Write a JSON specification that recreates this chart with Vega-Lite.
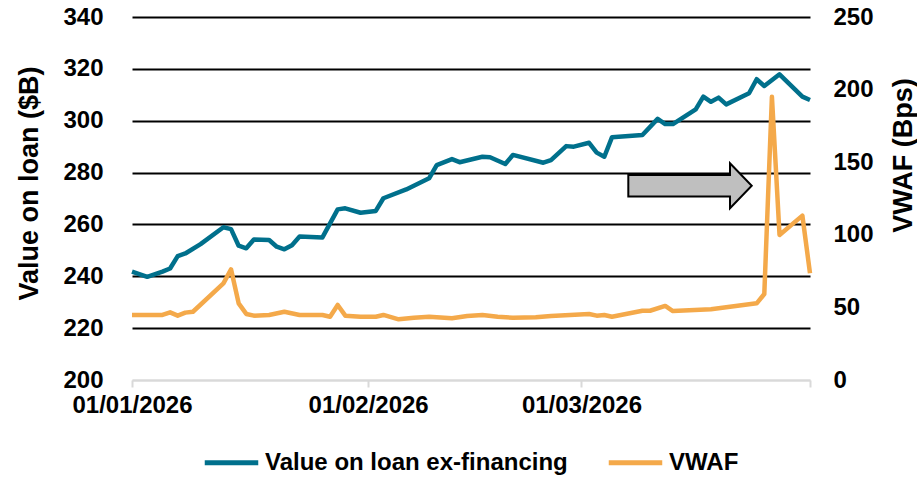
{
  "$schema": "https://vega.github.io/schema/vega-lite/v6.json",
  "width": 678,
  "height": 363,
  "autosize": {"type": "none"},
  "padding": {"left": 132, "top": 17, "right": 107, "bottom": 97},
  "background": "white",
  "config": {"view": {"stroke": null}, "font": "Liberation Sans"},
  "datasets": {
    "loan": [
      {"date": "2026-01-01", "value": 241.8},
      {"date": "2026-01-03", "value": 239.8},
      {"date": "2026-01-05", "value": 241.8},
      {"date": "2026-01-06", "value": 243.0},
      {"date": "2026-01-07", "value": 247.8},
      {"date": "2026-01-08", "value": 248.8},
      {"date": "2026-01-10", "value": 252.4},
      {"date": "2026-01-13", "value": 258.9},
      {"date": "2026-01-14", "value": 258.2},
      {"date": "2026-01-15", "value": 251.8},
      {"date": "2026-01-16", "value": 250.8},
      {"date": "2026-01-17", "value": 254.2},
      {"date": "2026-01-19", "value": 254.0},
      {"date": "2026-01-20", "value": 251.4},
      {"date": "2026-01-21", "value": 250.4},
      {"date": "2026-01-22", "value": 252.0},
      {"date": "2026-01-23", "value": 255.3},
      {"date": "2026-01-26", "value": 255.0},
      {"date": "2026-01-28", "value": 265.8},
      {"date": "2026-01-29", "value": 266.2},
      {"date": "2026-01-31", "value": 264.5},
      {"date": "2026-02-02", "value": 265.2},
      {"date": "2026-02-03", "value": 270.1},
      {"date": "2026-02-06", "value": 273.5},
      {"date": "2026-02-09", "value": 277.8},
      {"date": "2026-02-10", "value": 282.9},
      {"date": "2026-02-12", "value": 285.2},
      {"date": "2026-02-13", "value": 284.0},
      {"date": "2026-02-16", "value": 286.1},
      {"date": "2026-02-17", "value": 285.9},
      {"date": "2026-02-19", "value": 283.3},
      {"date": "2026-02-20", "value": 286.8},
      {"date": "2026-02-24", "value": 283.8},
      {"date": "2026-02-25", "value": 284.8},
      {"date": "2026-02-27", "value": 290.2},
      {"date": "2026-02-28", "value": 290.0},
      {"date": "2026-03-02", "value": 291.5},
      {"date": "2026-03-03", "value": 287.7},
      {"date": "2026-03-04", "value": 286.1},
      {"date": "2026-03-05", "value": 293.6},
      {"date": "2026-03-09", "value": 294.5},
      {"date": "2026-03-11", "value": 300.7},
      {"date": "2026-03-12", "value": 298.7},
      {"date": "2026-03-13", "value": 298.7},
      {"date": "2026-03-16", "value": 304.4},
      {"date": "2026-03-17", "value": 309.3},
      {"date": "2026-03-18", "value": 307.3},
      {"date": "2026-03-19", "value": 308.9},
      {"date": "2026-03-20", "value": 306.3},
      {"date": "2026-03-23", "value": 310.6},
      {"date": "2026-03-24", "value": 316.0},
      {"date": "2026-03-25", "value": 313.4},
      {"date": "2026-03-27", "value": 317.9},
      {"date": "2026-03-30", "value": 309.3},
      {"date": "2026-03-31", "value": 308.0}
    ],
    "vwaf": [
      {"date": "2026-01-01", "value": 44.8},
      {"date": "2026-01-05", "value": 44.8},
      {"date": "2026-01-06", "value": 46.6},
      {"date": "2026-01-07", "value": 44.3},
      {"date": "2026-01-08", "value": 46.4},
      {"date": "2026-01-09", "value": 47.0},
      {"date": "2026-01-13", "value": 66.6},
      {"date": "2026-01-14", "value": 76.2},
      {"date": "2026-01-15", "value": 52.8},
      {"date": "2026-01-16", "value": 45.5},
      {"date": "2026-01-17", "value": 44.3},
      {"date": "2026-01-19", "value": 44.8},
      {"date": "2026-01-21", "value": 47.0},
      {"date": "2026-01-23", "value": 44.8},
      {"date": "2026-01-26", "value": 44.8},
      {"date": "2026-01-27", "value": 43.6},
      {"date": "2026-01-28", "value": 51.7},
      {"date": "2026-01-29", "value": 44.3},
      {"date": "2026-01-31", "value": 43.6},
      {"date": "2026-02-02", "value": 43.6},
      {"date": "2026-02-03", "value": 44.8},
      {"date": "2026-02-05", "value": 41.8},
      {"date": "2026-02-07", "value": 42.9},
      {"date": "2026-02-09", "value": 43.6},
      {"date": "2026-02-11", "value": 42.9},
      {"date": "2026-02-12", "value": 42.5},
      {"date": "2026-02-14", "value": 44.1},
      {"date": "2026-02-16", "value": 44.8},
      {"date": "2026-02-18", "value": 43.6},
      {"date": "2026-02-20", "value": 42.9},
      {"date": "2026-02-23", "value": 43.2},
      {"date": "2026-02-25", "value": 44.1},
      {"date": "2026-03-02", "value": 45.5},
      {"date": "2026-03-03", "value": 44.3},
      {"date": "2026-03-04", "value": 44.8},
      {"date": "2026-03-05", "value": 43.6},
      {"date": "2026-03-09", "value": 47.7},
      {"date": "2026-03-10", "value": 47.7},
      {"date": "2026-03-12", "value": 51.0},
      {"date": "2026-03-13", "value": 47.5},
      {"date": "2026-03-18", "value": 48.7},
      {"date": "2026-03-24", "value": 52.8},
      {"date": "2026-03-25", "value": 59.2},
      {"date": "2026-03-26", "value": 195.1},
      {"date": "2026-03-27", "value": 99.9},
      {"date": "2026-03-30", "value": 113.2},
      {"date": "2026-03-31", "value": 73.5}
    ],
    "arrow": [
      {"date": "2026-03-15T06:00:00Z", "value": 274.9}
    ]
  },
  "encoding": {
    "x": {
      "field": "date",
      "type": "temporal",
      "scale": {
        "type": "utc",
        "domain": [
          {"year": 2026, "month": 1, "date": 1, "utc": true},
          {"year": 2026, "month": 3, "date": 31, "utc": true}
        ]
      },
      "axis": {
        "title": null,
        "values": [
          {"year": 2026, "month": 1, "date": 1, "utc": true},
          {"year": 2026, "month": 2, "date": 1, "utc": true},
          {"year": 2026, "month": 3, "date": 1, "utc": true},
          {"year": 2026, "month": 3, "date": 31, "utc": true}
        ],
        "labelExpr": "utcdate(datum.value) == 31 ? '' : utcFormat(datum.value, '%d/%m/%Y')",
        "grid": false,
        "domainColor": "#d9d9d9",
        "domainWidth": 2,
        "tickColor": "#d9d9d9",
        "tickWidth": 2,
        "tickSize": 7,
        "labelFont": "Liberation Sans",
        "labelFontSize": 24,
        "labelFontWeight": "bold",
        "labelColor": "black",
        "labelPadding": 6,
        "labelDx": 3,
        "labelFlush": false,
        "labelOverlap": false
      }
    }
  },
  "layer": [
    {
      "layer": [
        {
          "data": {"name": "loan"},
          "mark": {"type": "line", "strokeWidth": 4.5, "strokeJoin": "round"},
          "encoding": {
            "y": {
              "field": "value",
              "type": "quantitative",
              "scale": {"domain": [200, 340], "nice": false, "zero": false},
              "axis": {
                "title": "Value on loan ($B)",
                "values": [200, 220, 240, 260, 280, 300, 320, 340],
                "grid": true,
                "gridColor": {"condition": {"test": "datum.value == 200", "value": "#d9d9d9"}, "value": "black"},
                "gridWidth": 2,
                "domain": false,
                "ticks": false,
                "labelPadding": 29,
                "labelFont": "Liberation Sans",
                "labelFontSize": 24,
                "labelFontWeight": "bold",
                "labelColor": "black",
                "titleFont": "Liberation Sans",
                "titleFontSize": 27,
                "titleFontWeight": "bold",
                "titleColor": "black",
                "titleAngle": 270,
                "titleAlign": "center",
                "titleBaseline": "alphabetic",
                "titleX": -95,
                "titleY": 166
              }
            },
            "color": {
              "datum": "Value on loan ex-financing",
              "type": "nominal",
              "scale": {"domain": ["Value on loan ex-financing", "VWAF"], "range": ["#00708c", "#f4a94a"]},
              "legend": {
                "title": null,
                "orient": "none",
                "legendX": 70,
                "legendY": 416,
                "direction": "horizontal",
                "symbolType": "stroke",
                "symbolSize": 2862,
                "symbolStrokeWidth": 5,
                "labelFont": "Liberation Sans",
                "labelFontSize": 24,
                "labelFontWeight": "bold",
                "labelColor": "black",
                "labelLimit": 500,
                "labelOffset": 4,
                "columnPadding": 30,
                "padding": 0
              }
            }
          }
        },
        {
          "data": {"name": "arrow"},
          "mark": {
            "type": "point",
            "shape": "M-1,-0.175L0.648,-0.175L0.648,-0.365L1,0L0.648,0.365L0.648,0.175L-1,0.175Z",
            "filled": true,
            "fill": "#bfbfbf",
            "stroke": "black",
            "strokeWidth": 2,
            "opacity": 1,
            "size": 15230
          },
          "encoding": {
            "y": {"field": "value", "type": "quantitative"}
          }
        }
      ]
    },
    {
      "data": {"name": "vwaf"},
      "mark": {"type": "line", "strokeWidth": 4.5, "strokeJoin": "round"},
      "encoding": {
        "y": {
          "field": "value",
          "type": "quantitative",
          "scale": {"domain": [0, 250], "nice": false},
          "axis": {
            "orient": "right",
            "title": "VWAF (Bps)",
            "values": [0, 50, 100, 150, 200, 250],
            "grid": false,
            "domain": false,
            "ticks": false,
            "labelPadding": 23,
            "labelFont": "Liberation Sans",
            "labelFontSize": 24,
            "labelFontWeight": "bold",
            "labelColor": "black",
            "titleFont": "Liberation Sans",
            "titleFontSize": 27,
            "titleFontWeight": "bold",
            "titleColor": "black",
            "titleAngle": 270,
            "titleAlign": "center",
            "titleBaseline": "alphabetic",
            "titleX": 101.7,
            "titleY": 138
          }
        },
        "color": {"datum": "VWAF", "type": "nominal"}
      }
    }
  ],
  "resolve": {"scale": {"y": "independent"}}
}
